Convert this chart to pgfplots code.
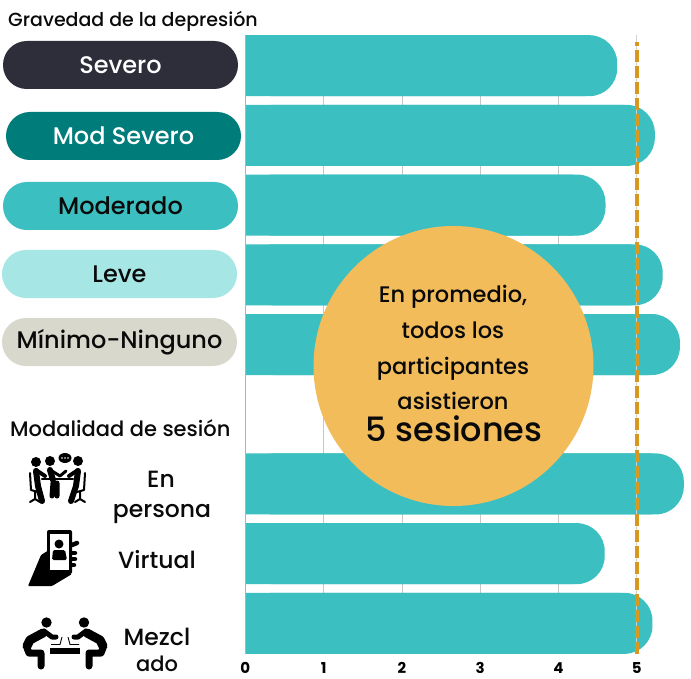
\documentclass[border=0pt]{standalone}
\usepackage{pgfplots}
\pgfplotsset{compat=1.18}
\usepackage{fontspec}
\setmainfont{Poppins Medium}
\newfontfamily\boldnum{Poppins}[UprightFont=* Bold]
\definecolor{cbar}{HTML}{3BBFC0}
\definecolor{csev}{HTML}{2D2E3A}
\definecolor{cmods}{HTML}{007C7A}
\definecolor{clev}{HTML}{A6E7E5}
\definecolor{cmini}{HTML}{D9D8CC}
\definecolor{csun}{HTML}{F2BC5B}
\definecolor{cdash}{HTML}{D8981F}
\definecolor{ink}{HTML}{0A0A0A}
\pgfplotstableread{
y v
0 4.75
1 5.23
2 4.60
3 5.33
4 5.55
6 5.60
7 4.59
8 5.20
}\bars
\pgfplotstableread{
y v
0 4.35
1 4.83
2 4.20
3 4.93
4 5.15
6 5.20
7 4.19
8 4.80
}\barbody
\begin{document}
\begin{tikzpicture}[x=1pt,y=-1pt,
  pill/.style={rounded corners=23.9pt,minimum width=235pt,minimum height=48pt,inner sep=0pt,font=\fontsize{24}{26}\selectfont},
  lab/.style={font=\fontsize{23.5}{26}\selectfont,text=ink,inner sep=0pt},
  circ/.style={font=\fontsize{22.5}{26}\selectfont,text=ink,inner sep=0pt}]
\path (0,0) rectangle (691,679);
\begin{axis}[
  at={(245.3pt,-654pt)},anchor=south west,scale only axis,
  width=445.7pt,height=619pt,
  xmin=0,xmax=5.692,ymin=-0.44,ymax=8.44,y dir=reverse,
  axis line style={draw=none},
  axis x line*=bottom,axis y line*=left,
  xtick={0,1,2,3,4,5},ytick=\empty,
  tick style={draw=none},
  xmajorgrids,grid style={draw=black!22,line width=0.8pt},
  tick label style={font=\fontsize{15}{16}\boldnum\selectfont,text=black},
  /pgf/number format/assume math mode=true,
  xticklabel style={yshift=-5pt},
  clip=false,
]
\addplot[xbar,bar width=61pt,fill=cbar,draw=none,rounded corners=28pt,bar shift=0pt] table[x=v,y=y]{\bars};
\addplot[xbar,bar width=61pt,fill=cbar,draw=none,bar shift=0pt] table[x=v,y=y]{\barbody};
\addplot[sharp plot,black!30,line width=0.9pt] coordinates {(0,-0.44)(0,8.44)};
\addplot[sharp plot,black!18,line width=1pt] coordinates {(5,-0.44)(5,8.44)};
\addplot[sharp plot,cdash,line width=3.5pt,dash pattern=on 11.5pt off 4.5pt,dash phase=7.5pt] coordinates {(5,-0.34)(5,8.44)};
\end{axis}
% circle and annotation
\fill[csun] (453.5,366) circle (140);
\node[circ] at (453,296.5) {En promedio,};
\node[circ] at (453,330) {todos los};
\node[circ] at (453,368.5) {participantes};
\node[circ] at (453,401) {asistieron};
\node[font=\fontsize{33.5}{36}\selectfont,text=ink,inner sep=0pt] at (454,429) {5 sesiones};
% left labels
\node[font=\fontsize{19}{22}\selectfont,text=ink,inner sep=0pt,anchor=west] at (8,21.5) {Gravedad de la depresión};
\node[pill,fill=csev,text=white] at (120.5,65) {\raisebox{-1.5pt}{Severo}};
\node[pill,fill=cmods,text=white] at (123.5,136) {Mod Severo};
\node[pill,fill=cbar,text=ink] at (120.5,206) {\raisebox{-1pt}{Moderado}};
\node[pill,fill=clev,text=ink] at (119.5,274) {\raisebox{-1pt}{Leve}};
\node[pill,fill=cmini,text=ink] at (119.5,342) {\raisebox{-1.5pt}{Mínimo-Ninguno}};
\node[font=\fontsize{21}{24}\selectfont,text=ink,inner sep=0pt,anchor=west] at (10,428) {Modalidad de sesión};
\node[lab] at (161,479) {En};
\node[lab] at (162,514) {persona};
\node[lab] at (157,560) {Virtual};
\node[lab] at (157,637) {Mezcl};
\node[font=\fontsize{21}{24}\selectfont,text=ink,inner sep=0pt] at (157,664) {ado};
% icon: en persona
\fill (36,462) circle (5);\fill (50,461) circle (5);\fill (78,461) circle (5);
\fill (65,458) ellipse (6.5 and 5);
\fill[white] (62,458) circle (0.8) (65,458) circle (0.8) (68,458) circle (0.8);
\begin{scope}[line cap=round,line join=round]
\draw[line width=6pt] (36,471) -- (38,486) -- (42,501);
\draw[line width=4pt] (36,470) -- (45,476);
\draw[line width=6pt] (50,470) -- (53,480);
\draw[line width=5pt] (53,483) -- (52,496) (57,483) -- (57,496);
\draw[line width=3pt] (52,471) -- (60,476) -- (66,471);
\draw[line width=6pt] (78,471) -- (76,486) -- (71,501);
\draw[line width=4pt] (78,470) -- (69,476);
\draw[line width=2.5pt] (42,479) -- (73,479);
\draw[line width=2pt] (30,473) -- (31,490) -- (38,492) (35,492) -- (35,499) (30,502) -- (35,499) -- (40,502);
\draw[line width=2pt] (85,473) -- (84,490) -- (77,492) (80,492) -- (80,499) (85,502) -- (80,499) -- (75,502);
\end{scope}
% icon: virtual
\fill[rounded corners=2pt] (47,530) rectangle (72,574);
\fill[white] (50,534) rectangle (69,570);
\fill (59,544) circle (4.5);
\fill[rounded corners=1.5pt] (52,560) -- (53,550) -- (65,550) -- (67,560) -- cycle;
\fill[rounded corners=1pt] (28,586) -- (41,555) -- (49,550) -- (49,570) -- (72,574) -- (62,580) -- (52,586) -- cycle;
\begin{scope}[line cap=round,line width=4.5pt]
\draw (72,545) -- (77,543);
\draw (72,553) -- (75,553);
\draw (72,559) -- (75,559);
\draw (72,565) -- (74,565);
\end{scope}
% icon: mezcla
\fill (46.5,622.5) circle (5.2);\fill (84,622.5) circle (5.2);
\begin{scope}[line cap=round,line join=round]
\draw[line width=9pt] (27,646) -- (30,640) -- (43,633);
\draw[line width=5pt] (44,631) -- (52,637) -- (56,637);
\draw[line width=7pt] (27,648) -- (29,653) -- (41,653) -- (41,666);
\draw[line width=9pt] (103,646) -- (100,640) -- (87,633);
\draw[line width=5pt] (86,631) -- (78,637) -- (74,637);
\draw[line width=7pt] (103,648) -- (101,653) -- (89,653) -- (89,666);
\end{scope}
\fill (50,648) rectangle (80,654);
\draw[line width=0.9pt] (51,644.5) -- (60,644.5) -- (62,637);
\draw[line width=0.9pt] (79,644.5) -- (70,644.5) -- (68,637);
\end{tikzpicture}
\end{document}
